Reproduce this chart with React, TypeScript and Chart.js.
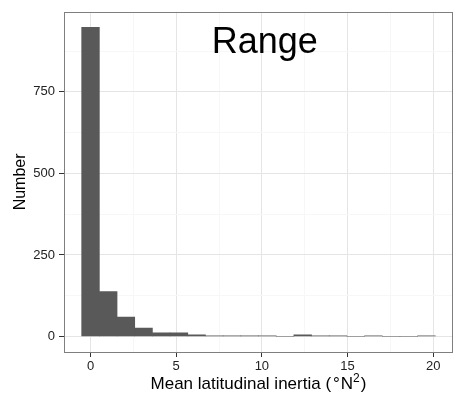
import React, { useEffect, useRef } from "react";
import { Chart, registerables } from "chart.js";

Chart.register(...registerables);

// ---- data ----
const binCenters = [
  0, 1.032, 2.064, 3.096, 4.128, 5.16, 6.192, 7.224, 8.256, 9.288,
  10.32, 11.352, 12.384, 13.416, 14.448, 15.48, 16.512, 17.544, 18.576, 19.608,
];
const counts = [948, 138, 60, 26, 11, 11, 5, 2, 2, 2, 2, 0, 5, 2, 2, 0, 2, 0, 0, 2];

const xMajorTicks = [0, 5, 10, 15, 20];
const xMinorTicks = [2.5, 7.5, 12.5, 17.5];
const yMajorTicks = [0, 250, 500, 750];
const yMinorTicks = [125, 375, 625, 875];
const xLimits = [-1.548, 21.156];
const yLimits = [-47.4, 995.4];

const panelLabel = "Range";
const panelLabelAt = { x: 10.17, y: 869 };
const xTitleParts = ["Mean latitudinal inertia (", "°", "N", "2", ")"];
const yTitle = "Number";

const FONT = "'Liberation Sans', Arial, Helvetica, sans-serif";

export default function App() {
  const ref = useRef<HTMLCanvasElement | null>(null);

  useEffect(() => {
    const canvas = ref.current;
    if (!canvas) return;

    const decor = {
      id: "decor",
      afterDraw(chart: any) {
        const { ctx, chartArea: a, scales } = chart;
        ctx.save();
        // panel border
        ctx.strokeStyle = "#7F7F7F";
        ctx.lineWidth = 1;
        ctx.strokeRect(Math.round(a.left) + 0.5, Math.round(a.top) + 0.5,
          Math.round(a.right - a.left) - 1, Math.round(a.bottom - a.top));
        // panel label
        ctx.fillStyle = "#000";
        ctx.font = `36px ${FONT}`;
        ctx.textAlign = "center";
        ctx.textBaseline = "alphabetic";
        ctx.fillText(panelLabel, scales.x.getPixelForValue(panelLabelAt.x),
          scales.y.getPixelForValue(panelLabelAt.y));
        // x title with degree sign and superscript
        const cx = (a.left + a.right) / 2;
        const by = a.bottom + 37;
        const big = `17px ${FONT}`;
        const small = `12px ${FONT}`;
        const fonts = [big, big, big, small, big];
        const gaps = [2, 1, 0, 1, 0];
        const rise = [0, 0, 0, 7.5, 0];
        const widths = xTitleParts.map((t, i) => {
          ctx.font = fonts[i];
          return ctx.measureText(t).width + gaps[i];
        });
        const total = widths.reduce((s, w) => s + w, 0);
        let x0 = cx - total / 2;
        ctx.textAlign = "left";
        ctx.fillStyle = "#000";
        xTitleParts.forEach((t, i) => {
          ctx.font = fonts[i];
          ctx.fillText(t, x0, by - rise[i]);
          x0 += widths[i];
        });
        // y title
        ctx.font = `16px ${FONT}`;
        ctx.translate(25, (a.top + a.bottom) / 2);
        ctx.rotate(-Math.PI / 2);
        ctx.textAlign = "center";
        ctx.fillText(yTitle, 0, 0);
        ctx.restore();
      },
    };

    const isMajorX = (v: number) => xMajorTicks.includes(v);
    const isMajorY = (v: number) => yMajorTicks.includes(v);

    const chart = new Chart(canvas, {
      type: "bar",
      data: {
        datasets: [
          {
            data: binCenters.map((x, i) => ({ x, y: counts[i] })),
            backgroundColor: "#595959",
            borderWidth: 0,
            barPercentage: 1,
            categoryPercentage: 1,
          },
        ],
      },
      options: {
        animation: false,
        responsive: false,
        devicePixelRatio: 1,
        layout: { padding: { top: 8, right: 7, left: 0, bottom: 0 } },
        plugins: { legend: { display: false }, tooltip: { enabled: false } },
        scales: {
          x: {
            type: "linear",
            offset: false,
            min: xLimits[0],
            max: xLimits[1],
            afterBuildTicks: (s: any) => {
              s.ticks = [...xMajorTicks, ...xMinorTicks].sort((p, q) => p - q).map((v) => ({ value: v }));
            },
            afterFit: (s: any) => { s.height = 45; },
            border: { display: false },
            grid: {
              offset: false,
              color: (c: any) => (c.tick && isMajorX(c.tick.value) ? "#E5E5E5" : "#F7F7F7"),
              lineWidth: 1,
              drawTicks: true,
              tickLength: 5,
              tickWidth: 1,
              tickColor: (c: any) => (c.tick && isMajorX(c.tick.value) ? "#333333" : "rgba(0,0,0,0)"),
            },
            ticks: {
              autoSkip: false,
              maxRotation: 0,
              padding: 2,
              color: "#222",
              font: { size: 13, family: FONT },
              callback: (v: any) => (isMajorX(Number(v)) ? String(v) : ""),
            },
          },
          y: {
            type: "linear",
            min: yLimits[0],
            max: yLimits[1],
            afterBuildTicks: (s: any) => {
              s.ticks = [...yMajorTicks, ...yMinorTicks].sort((p, q) => p - q).map((v) => ({ value: v }));
            },
            afterFit: (s: any) => { s.width = 64; },
            border: { display: false },
            grid: {
              color: (c: any) => (c.tick && isMajorY(c.tick.value) ? "#E5E5E5" : "#F7F7F7"),
              lineWidth: 1,
              drawTicks: true,
              tickLength: 5,
              tickWidth: 1,
              tickColor: (c: any) => (c.tick && isMajorY(c.tick.value) ? "#333333" : "rgba(0,0,0,0)"),
            },
            ticks: {
              autoSkip: false,
              padding: 4,
              color: "#222",
              font: { size: 13, family: FONT },
              callback: (v: any) => (isMajorY(Number(v)) ? String(v) : ""),
            },
          },
        },
      },
      plugins: [decor],
    } as any);

    return () => chart.destroy();
  }, []);

  return (
    <div style={{ position: "absolute", left: 0, top: 0, width: 460, height: 397, background: "#fff" }}>
      <canvas ref={ref} width={460} height={397} style={{ display: "block" }} />
    </div>
  );
}
